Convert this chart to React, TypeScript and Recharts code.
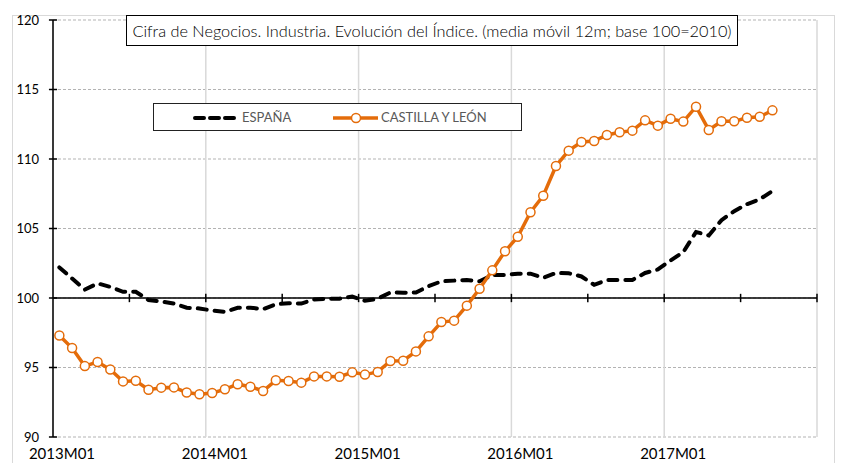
import React from 'react';
import { LineChart, Line, XAxis, YAxis, CartesianGrid, ReferenceLine, Legend } from 'recharts';

const titleText = 'Cifra de Negocios. Industria. Evolución del Índice. (media móvil 12m; base 100=2010)';
const seriesNames = ['ESPAÑA', 'CASTILLA Y LEÓN'];
const tickLabels = ['2013M01', '2014M01', '2015M01', '2016M01', '2017M01'];
const yTicks = [90, 95, 100, 105, 110, 115, 120];
const monthsInAxis = 60;

const espana = [102.2, 101.4, 100.6, 101.05, 100.8, 100.45, 100.45, 99.85, 99.75, 99.6,
  99.3, 99.25, 99.1, 99.0, 99.3, 99.3, 99.2, 99.55, 99.62, 99.6,
  99.9, 99.95, 99.95, 100.1, 99.8, 99.95, 100.4, 100.38, 100.4, 100.85,
  101.2, 101.25, 101.3, 101.2, 101.65, 101.65, 101.75, 101.75, 101.45, 101.8,
  101.78, 101.55, 100.95, 101.3, 101.3, 101.3, 101.8, 102.05, 102.7, 103.3,
  104.75, 104.5, 105.6, 106.25, 106.75, 107.1, 107.7];

const castilla = [97.3, 96.4, 95.1, 95.4, 94.85, 94.0, 94.05, 93.4, 93.55, 93.57,
  93.2, 93.07, 93.17, 93.43, 93.8, 93.62, 93.31, 94.08, 94.03, 93.91,
  94.36, 94.36, 94.34, 94.65, 94.49, 94.68, 95.47, 95.49, 96.16, 97.24,
  98.27, 98.37, 99.45, 100.67, 101.99, 103.36, 104.41, 106.17, 107.36, 109.5,
  110.6, 111.22, 111.29, 111.73, 111.92, 112.04, 112.78, 112.4, 112.9, 112.69,
  113.76, 112.09, 112.71, 112.71, 112.97, 113.04, 113.5];

const ORANGE = '#E46C0A';

const data = castilla.map((v, i) => ({ x: i + 0.5, esp: espana[i], cyl: v }));
const xTickValues = tickLabels.map((_, i) => i * 12);
const minorTicks = Array.from({ length: monthsInAxis / 6 }, (_, i) => (i + 1) * 6);

const LegendBox = () => (
  <div style={{ position: 'relative', width: 369, height: 28, boxSizing: 'border-box', border: '1.5px solid #222', background: '#fff', fontFamily: 'Lato, sans-serif', fontSize: 13, color: '#595959' }}>
    <svg width={369} height={28} style={{ position: 'absolute', left: -1.5, top: -1.5 }}>
      <line x1={42} x2={82} y1={15} y2={15} stroke="#000" strokeWidth={4} strokeDasharray="9 6" strokeLinecap="round" />
      <line x1={180} x2={225} y1={15} y2={15} stroke={ORANGE} strokeWidth={3.5} />
      <circle cx={203} cy={15} r={4.5} fill="#fff" stroke={ORANGE} strokeWidth={1.5} />
    </svg>
    <span style={{ position: 'absolute', left: 88, top: 5, lineHeight: '16px' }}>{seriesNames[0]}</span>
    <span style={{ position: 'absolute', left: 227, top: 5, lineHeight: '16px' }}>{seriesNames[1]}</span>
  </div>
);

export default function App() {
  return (
    <div style={{ position: 'absolute', left: 0, top: 0, width: 843, height: 463, overflow: 'hidden', background: '#fff' }}>
      <div style={{ position: 'absolute', left: 12, top: 15, width: 821, height: 470, border: '1px solid #d9d9d9' }} />
      <LineChart width={843} height={463} data={data} margin={{ top: 20, right: 26, left: 13, bottom: 0 }}>
        <CartesianGrid horizontal={true} vertical={false} stroke="#b3b3b3" strokeDasharray="3 2" />
        <CartesianGrid horizontal={false} vertical={true} stroke="#d9d9d9" strokeWidth={1.5} />
        <XAxis type="number" dataKey="x" domain={[0, monthsInAxis]} ticks={xTickValues} interval={0}
          tickFormatter={(v: number) => tickLabels[Math.round(v / 12)]}
          axisLine={false} tickLine={false} tickSize={2} tickMargin={9.5} height={26}
          tick={{ fontSize: 15, fill: '#000', fontFamily: 'Lato, sans-serif', dx: 9 }} />
        <YAxis type="number" domain={[90, 120]} ticks={yTicks} interval={0} width={40}
          axisLine={{ stroke: '#000', strokeWidth: 1.5 }} tickLine={false} tickSize={6} tickMargin={8}
          tick={{ fontSize: 13, fill: '#000', fontFamily: 'Lato, sans-serif' }} />
        <ReferenceLine y={100} stroke="#000" strokeWidth={1.5} />
        {yTicks.map((t) => (
          <ReferenceLine key={'yt' + t} segment={[{ x: -0.32, y: t }, { x: 0.32, y: t }]} stroke="#000" strokeWidth={1.5} ifOverflow="visible" />
        ))}
        {minorTicks.map((m) => (
          <ReferenceLine key={'xt' + m} segment={[{ x: m, y: 99.7 }, { x: m, y: 100.3 }]} stroke="#000" strokeWidth={1.5} ifOverflow="visible" />
        ))}
        <Line type="linear" dataKey="esp" name={seriesNames[0]} stroke="#000" strokeWidth={4}
          strokeDasharray="9 8" strokeLinecap="round" dot={false} isAnimationActive={false} />
        <Line type="linear" dataKey="cyl" name={seriesNames[1]} stroke={ORANGE} strokeWidth={3.5}
          dot={{ r: 4.5, fill: '#fff', stroke: ORANGE, strokeWidth: 1.5 }} isAnimationActive={false} />
        <Legend layout="horizontal" verticalAlign="middle" align="center" content={() => <LegendBox />}
          wrapperStyle={{ position: 'absolute', left: 153, top: 103, width: 369, height: 28 }} />
      </LineChart>
      <div style={{ position: 'absolute', left: 126, top: 15, width: 612, height: 31, boxSizing: 'border-box', border: '1px solid #000', background: '#fff', textAlign: 'center', lineHeight: '29px', fontFamily: 'Lato, sans-serif', fontWeight: 300, fontSize: 16.3, color: '#000', whiteSpace: 'nowrap' }}>
        {titleText}
      </div>
    </div>
  );
}
